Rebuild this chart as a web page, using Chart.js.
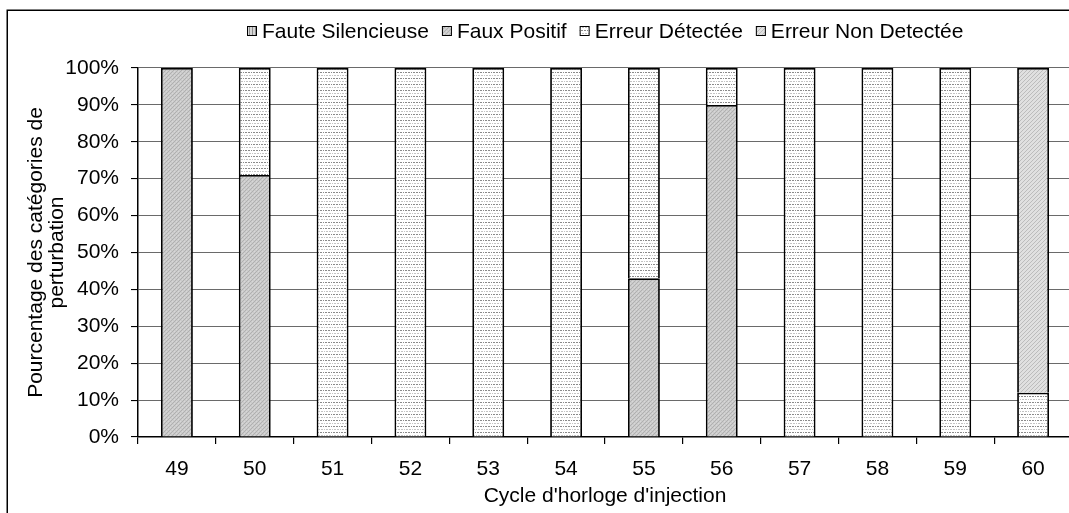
<!DOCTYPE html>
<html lang="fr">
<head>
<meta charset="utf-8">
<title>Catégories de perturbation par cycle d'injection</title>
<script src="https://cdn.jsdelivr.net/npm/chart.js@4.4.1/dist/chart.umd.min.js"></script>
<style>
  html, body { margin: 0; padding: 0; background: #fff; overflow: hidden; }
  #wrap { width: 1100px; height: 513px; position: relative; }
</style>
</head>
<body>
<div id="wrap"><canvas id="chart"></canvas></div>
<script>
// Injection clock cycles
const categories = ['49', '50', '51', '52', '53', '54', '55', '56', '57', '58', '59', '60'];

// Share (%) of each perturbation category per cycle
const fauteSilencieuse  = [0,   0,   0,   0,   0,   0,   0,  0,   0,   0,   0,   0];
const fauxPositif       = [100, 71,  0,   0,   0,   0,   43, 90,  0,   0,   0,   0];
const erreurDetectee    = [0,   29,  100, 100, 100, 100, 57, 10,  100, 100, 100, 12];
const erreurNonDetectee = [0,   0,   0,   0,   0,   0,   0,  0,   0,   0,   0,   88];

const seriesLabels = ['Faute Silencieuse', 'Faux Positif', 'Erreur Détectée', 'Erreur Non Detectée'];
const yTicks = [0, 10, 20, 30, 40, 50, 60, 70, 80, 90, 100];

const FONT = "'Liberation Sans', Arial, sans-serif";

// Small bitmap fill patterns for the bar series
function makePattern(w, h, paint) {
  const c = document.createElement('canvas');
  c.width = w; c.height = h;
  const g = c.getContext('2d');
  paint(g);
  return g.createPattern(c, 'repeat');
}
function px(g, color, pts) {
  g.fillStyle = color;
  pts.forEach(([x, y]) => g.fillRect(x, y, 1, 1));
}

const patSilencieuse = makePattern(3, 1, g => {
  g.fillStyle = '#d6d6d6'; g.fillRect(0, 0, 3, 1);
  px(g, '#8e8e8e', [[0, 0]]);
});
const patFauxPositif = makePattern(4, 4, g => {
  g.fillStyle = '#cbcbcb'; g.fillRect(0, 0, 4, 4);
  px(g, '#b0b0b0', [[0, 3], [1, 2], [2, 1], [3, 0]]);
  px(g, '#d8d8d8', [[0, 1], [2, 3]]);
});
const patDetectee = makePattern(8, 6, g => {
  g.fillStyle = '#ffffff'; g.fillRect(0, 0, 8, 6);
  px(g, '#8a8a8a', [[0, 0], [1, 0], [3, 0], [5, 0], [6, 0]]);
  px(g, '#c4c4c4', [[1, 3], [2, 3], [4, 3], [6, 3], [7, 3]]);
});
const patNonDetectee = makePattern(4, 4, g => {
  g.fillStyle = '#e0e0e0'; g.fillRect(0, 0, 4, 4);
  px(g, '#bcbcbc', [[0, 0], [2, 2], [1, 3], [3, 1]]);
});

// Outer chart frame and white background
const framePlugin = {
  id: 'frame',
  beforeDraw(chart) {
    const ctx = chart.ctx;
    ctx.save();
    ctx.fillStyle = '#fff';
    ctx.fillRect(0, 0, chart.width, chart.height);
    ctx.strokeStyle = '#000';
    ctx.lineWidth = 1.5;
    ctx.strokeRect(7.25, 10.25, chart.width + 50, chart.height + 50);
    ctx.restore();
  }
};

// Horizontal legend above the plot, centred on the plot area
const legendPlugin = {
  id: 'topLegend',
  afterDraw(chart) {
    const ctx = chart.ctx;
    const box = 10, gapText = 5, gapItem = 13, yMid = 31;
    ctx.save();
    ctx.font = '21px ' + FONT;
    ctx.textBaseline = 'middle';
    const items = chart.data.datasets.map(ds => ({
      label: ds.label, fill: ds.backgroundColor, w: ctx.measureText(ds.label).width
    }));
    let total = 0;
    items.forEach((it, i) => { total += box + gapText + it.w + (i ? gapItem : 0); });
    const area = chart.chartArea;
    let x = Math.round((area.left + area.right) / 2 - total / 2);
    items.forEach(it => {
      ctx.fillStyle = it.fill;
      ctx.fillRect(x, yMid - box / 2, box, box);
      ctx.strokeStyle = '#000';
      ctx.lineWidth = 1;
      ctx.strokeRect(x + 0.5, yMid - box / 2 + 0.5, box - 1, box - 1);
      ctx.fillStyle = '#000';
      ctx.fillText(it.label, x + box + gapText, yMid + 1);
      x += box + gapText + it.w + gapItem;
    });
    ctx.restore();
  }
};

const seriesData = [fauteSilencieuse, fauxPositif, erreurDetectee, erreurNonDetectee];
const seriesFill = [patSilencieuse, patFauxPositif, patDetectee, patNonDetectee];

new Chart(document.getElementById('chart'), {
  type: 'bar',
  data: {
    labels: categories,
    datasets: seriesLabels.map((label, i) => ({
      label,
      // empty segments are left out so they draw no outline
      data: seriesData[i].map(v => (v > 0 ? v : null)),
      backgroundColor: seriesFill[i],
      borderColor: '#000',
      borderWidth: 1.8,
      borderSkipped: 'start',
      categoryPercentage: 1,
      barPercentage: 0.41
    }))
  },
  options: {
    responsive: true,
    maintainAspectRatio: false,
    animation: false,
    devicePixelRatio: 1,
    layout: { padding: { left: 7, top: 68, right: 28, bottom: 0 } },
    plugins: {
      legend: { display: false },
      tooltip: { enabled: false }
    },
    scales: {
      x: {
        stacked: true,
        afterFit(scale) { scale.height = 76; },
        grid: {
          display: true,
          drawOnChartArea: false,
          drawTicks: true,
          tickLength: 7,
          offset: true,
          color: '#000',
          lineWidth: 1.2
        },
        border: { display: true, color: '#000', width: 1.5 },
        ticks: { color: '#000', font: { family: FONT, size: 21 }, padding: 13 },
        title: {
          display: true,
          text: "Cycle d'horloge d'injection",
          color: '#000',
          font: { family: FONT, size: 21, lineHeight: 1.2 },
          padding: { top: 0, bottom: 4 }
        }
      },
      y: {
        stacked: true,
        min: 0,
        max: 100,
        afterFit(scale) { scale.width = 131; },
        afterBuildTicks(scale) { scale.ticks = yTicks.map(v => ({ value: v })); },
        grid: {
          color: '#6a6a6a',
          lineWidth: 1.1,
          drawTicks: true,
          tickLength: 7,
          tickColor: '#000'
        },
        border: { display: true, color: '#000', width: 1.5 },
        ticks: {
          color: '#000',
          font: { family: FONT, size: 21 },
          padding: 12,
          callback: v => v + '%'
        },
        title: {
          display: true,
          text: ['Pourcentage des catégories de', 'perturbation'],
          color: '#000',
          font: { family: FONT, size: 21, lineHeight: 1.0 },
          padding: { top: 18.5, bottom: 0 }
        }
      }
    }
  },
  plugins: [framePlugin, legendPlugin]
});
</script>
</body>
</html>
